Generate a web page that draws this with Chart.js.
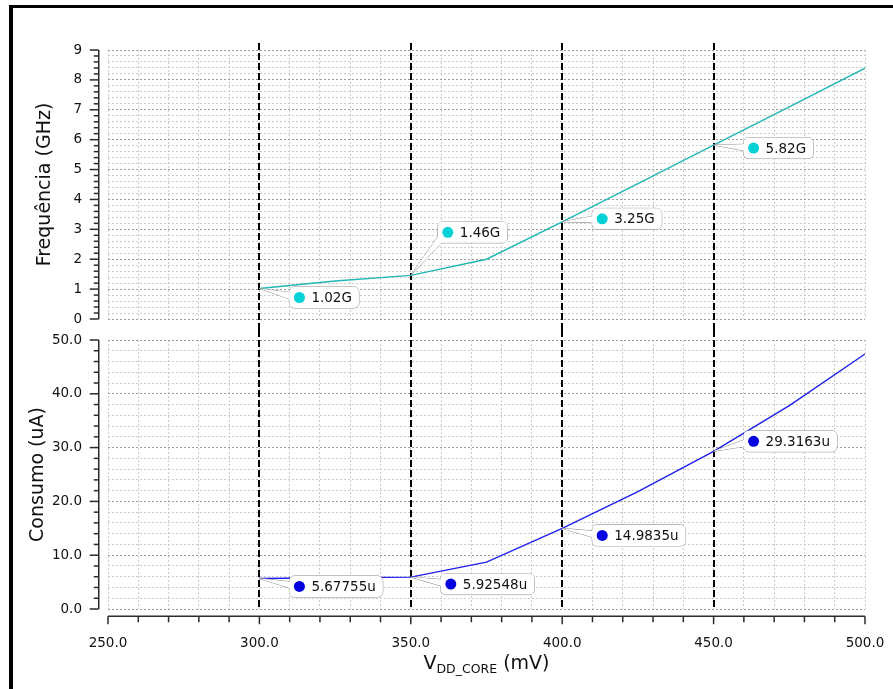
<!DOCTYPE html>
<html>
<head>
<meta charset="utf-8">
<script src="https://cdn.jsdelivr.net/npm/chart.js@4.4.0/dist/chart.umd.min.js"></script>
<style>
  body { margin: 0; background: #fff; width: 893px; height: 689px; overflow: hidden; position: relative; }
  #moldura { position: absolute; left: 9px; top: 5px; width: 1000px; height: 1000px; border-left: 4px solid #000; border-top: 3px solid #000; }
  #graf1 { position: absolute; left: 0; top: 0; }
  #graf2 { position: absolute; left: 0; top: 330px; }
</style>
</head>
<body>
<div id="moldura"></div>
<canvas id="graf1" width="893" height="330"></canvas>
<canvas id="graf2" width="893" height="359"></canvas>
<script>
// dados
var vdd = [300, 325, 350, 375, 400, 425, 450, 475, 500];
var freq = [1.02, 1.27, 1.46, 2.0, 3.25, 4.53, 5.82, 7.1, 8.39];
var consumo = [5.67755, 5.8, 5.92548, 8.7, 14.9835, 21.8, 29.3163, 37.8, 47.4];
var marcadores = [300, 350, 400, 450];
var rotulosFreq = ['1.02G', '1.46G', '3.25G', '5.82G'];
var rotulosConsumo = ['5.67755u', '5.92548u', '14.9835u', '29.3163u'];

// deslocamento (px) dos balões em relação ao ponto
var offFreq = [[40, 9], [37, -43], [40, -3], [40, 3]];
var offConsumo = [[40, 8], [40, 7], [40, 7], [40, -10]];

var FONTE = 'DejaVu Sans';

function pontos(ys) {
    return vdd.map(function(v, i) { return { x: v, y: ys[i] }; });
}

function corGrade(ctx, passoMaior) {
    var v = ctx.tick ? ctx.tick.value : 0;
    var r = v / passoMaior;
    return Math.abs(r - Math.round(r)) < 1e-6 ? '#9c9c9c' : '#cccccc';
}

function semPadding(s) {
    s.paddingLeft = 0; s.paddingRight = 0; s.paddingTop = 0; s.paddingBottom = 0;
}

// linhas tracejadas verticais
function pluginMarcadores(estendeTopo, estendeBase) {
    return {
        id: 'marcadores',
        beforeDatasetsDraw: function(chart) {
            var ctx = chart.ctx, a = chart.chartArea, x = chart.scales.x;
            var y0 = estendeTopo ? a.top - 7 : 0;
            var y1 = estendeBase ? chart.height : a.bottom;
            ctx.save();
            ctx.strokeStyle = '#000';
            ctx.lineWidth = 2;
            ctx.setLineDash([7, 3]);
            marcadores.forEach(function(v) {
                var px = Math.round(x.getPixelForValue(v));
                ctx.beginPath();
                ctx.moveTo(px, y0);
                ctx.lineTo(px, y1);
                ctx.stroke();
            });
            ctx.restore();
        }
    };
}

// balões com os valores
function pluginBaloes(ys, rotulos, offs, cor) {
    return {
        id: 'baloes',
        afterDatasetsDraw: function(chart) {
            var ctx = chart.ctx, xs = chart.scales.x, yS = chart.scales.y;
            ctx.save();
            ctx.font = '13.5px "' + FONTE + '"';
            marcadores.forEach(function(m, k) {
                var i = vdd.indexOf(m);
                var px = xs.getPixelForValue(m), py = yS.getPixelForValue(ys[i]);
                var dx = px + offs[k][0], dy = py + offs[k][1];
                var tw = ctx.measureText(rotulos[k]).width;
                var bx = dx - 10, by = dy - 10.5, bw = tw + 29, bh = 21;
                // cunha
                var cx = bx + 8, cy = dy;
                var vx = cx - px, vy = cy - py, len = Math.sqrt(vx * vx + vy * vy);
                var nx = -vy / len * 4, ny = vx / len * 4;
                function cunha() {
                    ctx.beginPath();
                    ctx.moveTo(px, py);
                    ctx.lineTo(cx + nx, cy + ny);
                    ctx.lineTo(cx - nx, cy - ny);
                    ctx.closePath();
                }
                function caixa() {
                    ctx.beginPath();
                    ctx.roundRect(bx, by, bw, bh, 5);
                }
                ctx.lineWidth = 1;
                ctx.strokeStyle = '#8c8c8c';
                ctx.fillStyle = '#fff';
                cunha(); ctx.stroke();
                caixa(); ctx.stroke();
                caixa(); ctx.fill();
                cunha(); ctx.fill();
                // ponto
                ctx.fillStyle = cor;
                ctx.beginPath();
                ctx.arc(dx, dy, 5.5, 0, Math.PI * 2);
                ctx.fill();
                // texto
                ctx.fillStyle = '#111';
                ctx.textBaseline = 'middle';
                ctx.textAlign = 'left';
                ctx.fillText(rotulos[k], dx + 12, dy + 1);
            });
            ctx.restore();
        }
    };
}

// eixos deslocados para fora + títulos
function pluginEixos(tituloY, baseTituloY, comEixoX) {
    return {
        id: 'eixos',
        afterDraw: function(chart) {
            var ctx = chart.ctx, a = chart.chartArea, y = chart.scales.y, x = chart.scales.x;
            ctx.save();
            ctx.strokeStyle = '#2b2b2b';
            ctx.lineWidth = 1.5;
            var sx = a.left - 9.25;
            ctx.beginPath();
            ctx.moveTo(sx, a.top);
            ctx.lineTo(sx, a.bottom);
            ctx.stroke();
            y.ticks.forEach(function(t, i) {
                var py = y.getPixelForTick(i);
                var l = t.label ? 9 : 5;
                ctx.beginPath();
                ctx.moveTo(sx - l, py);
                ctx.lineTo(sx, py);
                ctx.stroke();
            });
            if (comEixoX) {
                var sy = a.bottom + 7.25;
                ctx.beginPath();
                ctx.moveTo(a.left, sy);
                ctx.lineTo(a.right, sy);
                ctx.stroke();
                x.ticks.forEach(function(t, i) {
                    var pxx = x.getPixelForTick(i);
                    var l = t.label ? 8 : 6;
                    ctx.beginPath();
                    ctx.moveTo(pxx, sy);
                    ctx.lineTo(pxx, sy + l);
                    ctx.stroke();
                });
                // título do eixo x: V_DD_CORE (mV)
                var f1 = '19px "' + FONTE + '"', f2 = '12.5px "' + FONTE + '"';
                ctx.font = f1; var w1 = ctx.measureText('V').width;
                var w3 = ctx.measureText(' (mV)').width;
                ctx.font = f2; var w2 = ctx.measureText('DD_CORE').width;
                var x0 = (a.left + a.right) / 2 - (w1 + w2 + w3) / 2;
                var bl = a.bottom + 60;
                ctx.fillStyle = '#111';
                ctx.textAlign = 'left';
                ctx.textBaseline = 'alphabetic';
                ctx.font = f1; ctx.fillText('V', x0, bl);
                ctx.font = f2; ctx.fillText('DD_CORE', x0 + w1, bl + 4);
                ctx.font = f1; ctx.fillText(' (mV)', x0 + w1 + w2, bl);
            }
            // título do eixo y
            ctx.fillStyle = '#111';
            ctx.font = '19px "' + FONTE + '"';
            ctx.textAlign = 'center';
            ctx.textBaseline = 'alphabetic';
            ctx.translate(baseTituloY, (a.top + a.bottom) / 2);
            ctx.rotate(-Math.PI / 2);
            ctx.fillText(tituloY, 0, 0);
            ctx.restore();
        }
    };
}

function escalaX(comRotulos) {
    return {
        type: 'linear',
        min: 250,
        max: 500,
        afterFit: function(s) { s.height = comRotulos ? 80 : 0; semPadding(s); },
        grid: { drawTicks: false, color: '#cccccc', lineWidth: 1 },
        border: { display: false, dash: [2, 2] },
        ticks: {
            display: comRotulos,
            stepSize: 10,
            autoSkip: false,
            maxRotation: 0,
            padding: 26,
            color: '#111',
            font: { family: FONTE, size: 13.5 },
            callback: function(v) { return v % 50 === 0 ? v.toFixed(1) : ''; }
        }
    };
}

Chart.defaults.font.family = FONTE;

// Frequência
var chart1 = new Chart(document.getElementById('graf1').getContext('2d'), {
    type: 'line',
    data: {
        datasets: [{
            data: pontos(freq),
            borderColor: '#22b6b6',
            borderWidth: 1.4,
            pointRadius: 0,
            tension: 0
        }]
    },
    options: {
        responsive: false,
        animation: false,
        layout: { padding: { top: 50, right: 28, bottom: 11, left: 0 } },
        plugins: { legend: { display: false }, tooltip: { enabled: false } },
        scales: {
            x: escalaX(false),
            y: {
                min: 0,
                max: 9,
                afterFit: function(s) { s.width = 108; semPadding(s); },
                grid: { drawTicks: false, color: function(c) { return corGrade(c, 1); } },
                border: { display: false, dash: [2, 2] },
                ticks: {
                    stepSize: 0.2,
                    autoSkip: false,
                    padding: 26,
                    color: '#111',
                    font: { family: FONTE, size: 13.5 },
                    callback: function(v) { return Math.abs(v - Math.round(v)) < 1e-6 ? String(Math.round(v)) : ''; }
                }
            }
        }
    },
    plugins: [pluginMarcadores(true, true), pluginBaloes(freq, rotulosFreq, offFreq, '#00d2d8'), pluginEixos('Frequência (GHz)', 50, false)]
});

// Consumo
var chart2 = new Chart(document.getElementById('graf2').getContext('2d'), {
    type: 'line',
    data: {
        datasets: [{
            data: pontos(consumo),
            borderColor: '#1f1ff0',
            borderWidth: 1.4,
            pointRadius: 0,
            tension: 0
        }]
    },
    options: {
        responsive: false,
        animation: false,
        layout: { padding: { top: 10, right: 28, bottom: 0, left: 0 } },
        plugins: { legend: { display: false }, tooltip: { enabled: false } },
        scales: {
            x: escalaX(true),
            y: {
                min: 0,
                max: 50,
                afterFit: function(s) { s.width = 108; semPadding(s); },
                grid: { drawTicks: false, color: function(c) { return corGrade(c, 10); } },
                border: { display: false, dash: [2, 2] },
                ticks: {
                    stepSize: 2,
                    autoSkip: false,
                    padding: 26,
                    color: '#111',
                    font: { family: FONTE, size: 13.5 },
                    callback: function(v) { return v % 10 === 0 ? v.toFixed(1) : ''; }
                }
            }
        }
    },
    plugins: [pluginMarcadores(false, false), pluginBaloes(consumo, rotulosConsumo, offConsumo, '#0000e0'), pluginEixos('Consumo (uA)', 43, true)]
});
</script>
</body>
</html>
